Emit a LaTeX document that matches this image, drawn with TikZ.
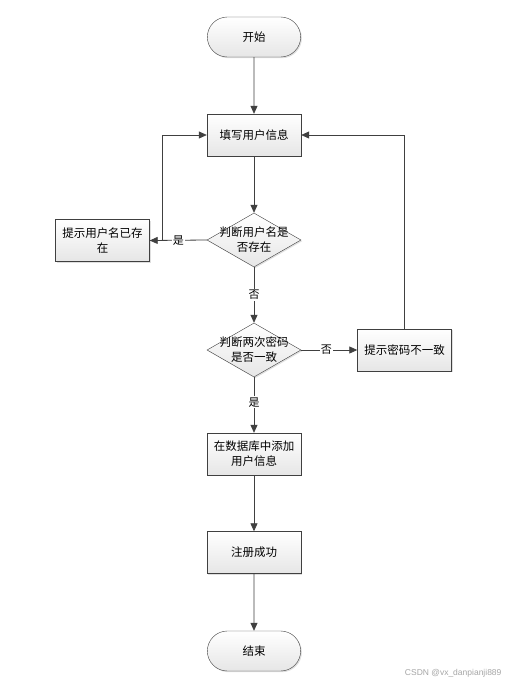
\documentclass[tikz,border=0pt]{standalone}
\usepackage{fontspec}
\newfontfamily\cjk{Noto Sans CJK SC}
\usetikzlibrary{arrows.meta,shapes.geometric,shapes.misc,shadows}
\definecolor{linegray}{HTML}{404040}
\definecolor{boxgray}{HTML}{E6E6E6}
\tikzset{
  procbox/.style={draw=linegray,rectangle,minimum width=94pt,minimum height=42pt,
    top color=white,bottom color=boxgray,align=center,font=\cjk\fontsize{11.5}{15}\selectfont,
    drop shadow={shadow xshift=1.2pt,shadow yshift=-1.2pt,opacity=.25}},
  termbox/.style={procbox,rounded rectangle,minimum width=100pt,minimum height=40pt},
  decbox/.style={draw=linegray,diamond,inner sep=0pt,minimum width=94pt,minimum height=54pt,
    top color=white,bottom color=boxgray,
    drop shadow={shadow xshift=1.2pt,shadow yshift=-1.2pt,opacity=.25}},
  dectext/.style={align=center,font=\cjk\fontsize{11.5}{15}\selectfont},
  flow/.style={draw=linegray,thick,-{Triangle[length=8pt,width=7pt]}},
  edgelabel/.style={fill=white,inner sep=1pt,font=\cjk\fontsize{11}{13}\selectfont}
}
\begin{document}
\begin{tikzpicture}[x=1pt,y=-1pt]
\useasboundingbox[fill=white](0,0)rectangle(508,686); %page
\node[termbox] (start) at (254,37){开始};
\node[procbox] (fill) at (254,135){填写用户信息};
\node[decbox] (chkname) at (254,240){};
\node[dectext] (chknametxt) at (chkname){判断用户名是\\否存在};
\node[procbox] (nameexists) at (102.5,240.5){提示用户名已存\\在};
\node[decbox] (chkpwd) at (254,350){};
\node[dectext] (chkpwdtxt) at (chkpwd){判断两次密码\\是否一致};
\node[procbox] (pwdwrong) at (404.5,350){提示密码不一致};
\node[procbox] (adddb) at (254,454){在数据库中添加\\用户信息};
\node[procbox] (ok) at (254,552.5){注册成功};
\node[termbox] (finish) at (254,651){结束};

%main line
\draw[flow](start)--(fill);
\draw[flow](fill)--(chkname);
\draw[flow](chkname)--node[edgelabel](no1){否}(chkpwd);
\draw[flow](chkpwd)--node[edgelabel,pos=.45](yes2){是}(adddb);
\draw[flow](adddb)--(ok);
\draw[flow](ok)--(finish);

%branches
\draw[flow](chkname.west)--node[edgelabel,pos=.5](yes1){是}(nameexists.east);
\draw[flow](nameexists.east)--++(13,0)|-(fill.west);
\draw[flow](chkpwd.east)--node[edgelabel,pos=.45](no2){否}(pwdwrong.west);
\draw[flow](pwdwrong.north)|-(fill.east);

\node[anchor=east,text=gray!70,font=\fontspec{Liberation Sans}\fontsize{8.5}{10}\selectfont] (mark) at (505,673){CSDN @vx\_danpianji889};
\end{tikzpicture}
\end{document}
